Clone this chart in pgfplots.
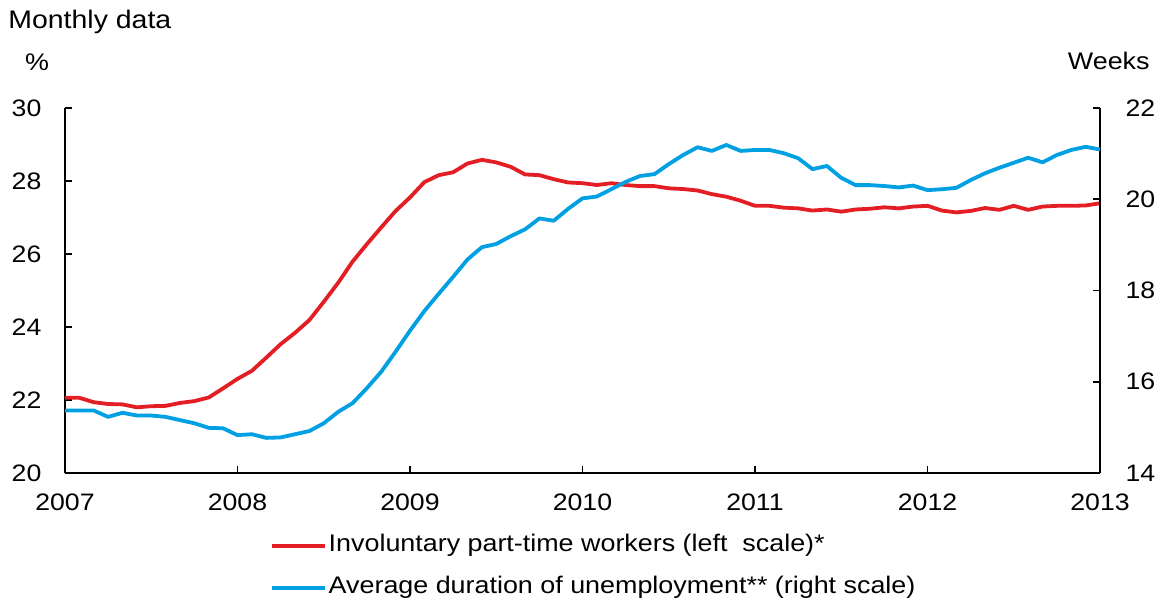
\documentclass[border=0pt]{standalone}
\usepackage{fontspec}
\setmainfont{Liberation Sans}[FakeStretch=1.12]
\usepackage{pgfplots}
\pgfplotsset{compat=1.18}
\definecolor{cred}{RGB}{227,30,36}
\definecolor{cblue}{RGB}{0,160,226}
\begin{document}
\fontsize{12}{14}\selectfont
\begin{tikzpicture}
\useasboundingbox (-32.5pt,-64.5pt) rectangle (547.5pt,236.5pt);
\pgfplotsset{
  common/.style={
    width=517.5pt, height=182.5pt, scale only axis,
    xmin=0, xmax=72,
    tick align=inside,
    major tick length=3.5pt,
    every tick/.style={black, line width=0.8pt},
    axis line style={black, line width=0.9pt},
    /pgf/number format/assume math mode=true,
    tick label style={font=\fontsize{11.9}{14}\selectfont},
    clip=false,
  }
}
\begin{axis}[common,
  axis y line*=left, axis x line*=bottom,
  ymin=20, ymax=30, ytick={20,22,...,30},
  xtick={0,12,...,72},
  xticklabels={2007,2008,2009,2010,2011,2012,2013},
  yticklabel style={xshift=-7.6pt},
  xticklabel style={yshift=-6pt},
]
\addplot[cred, line width=1.9pt, line join=round] coordinates {
(0,22.06)(1,22.06)(2,21.94)(3,21.89)(4,21.88)(5,21.80)(6,21.83)(7,21.84)(8,21.92)(9,21.97)
(10,22.07)(11,22.32)(12,22.58)(13,22.80)(14,23.16)(15,23.53)(16,23.84)(17,24.19)(18,24.69)(19,25.21)
(20,25.79)(21,26.27)(22,26.73)(23,27.18)(24,27.55)(25,27.97)(26,28.16)(27,28.24)(28,28.48)(29,28.58)
(30,28.51)(31,28.39)(32,28.18)(33,28.16)(34,28.05)(35,27.96)(36,27.94)(37,27.89)(38,27.94)(39,27.89)
(40,27.86)(41,27.86)(42,27.80)(43,27.78)(44,27.74)(45,27.64)(46,27.57)(47,27.46)(48,27.32)(49,27.32)
(50,27.27)(51,27.25)(52,27.19)(53,27.22)(54,27.16)(55,27.22)(56,27.24)(57,27.28)(58,27.25)(59,27.30)
(60,27.32)(61,27.19)(62,27.14)(63,27.18)(64,27.26)(65,27.21)(66,27.32)(67,27.21)(68,27.30)(69,27.32)
(70,27.32)(71,27.33)(72,27.39)
};
\end{axis}
\begin{axis}[common,
  axis y line*=right, axis x line=none,
  ymin=14, ymax=22, ytick={14,16,...,22},
  yticklabel style={xshift=8.6pt},
  legend style={at={(0.198,-0.167)}, anchor=north west, draw=none, fill=none,
    inner sep=0pt, outer sep=0pt, row sep=9pt, column sep=1pt,
    nodes={inner sep=0pt, text height=9pt, text depth=3pt, font=\fontsize{12}{14}\selectfont}},
  legend cell align=left,
  legend image code/.code={\draw[#1, line width=1.9pt] (0pt,0pt) -- (26.5pt,0pt);},
]
\addlegendimage{cred}
\addlegendentry{Involuntary part-time workers (left\ \ scale)*}
\addplot[cblue, line width=1.9pt, line join=round] coordinates {
(0,15.37)(1,15.37)(2,15.37)(3,15.23)(4,15.32)(5,15.26)(6,15.26)(7,15.23)(8,15.16)(9,15.09)
(10,14.99)(11,14.98)(12,14.83)(13,14.85)(14,14.77)(15,14.78)(16,14.85)(17,14.92)(18,15.09)(19,15.34)
(20,15.53)(21,15.86)(22,16.22)(23,16.66)(24,17.12)(25,17.55)(26,17.93)(27,18.30)(28,18.68)(29,18.95)
(30,19.02)(31,19.19)(32,19.34)(33,19.58)(34,19.53)(35,19.79)(36,20.02)(37,20.06)(38,20.22)(39,20.38)
(40,20.51)(41,20.55)(42,20.77)(43,20.97)(44,21.14)(45,21.06)(46,21.19)(47,21.06)(48,21.08)(49,21.08)
(50,21.01)(51,20.90)(52,20.66)(53,20.73)(54,20.47)(55,20.31)(56,20.31)(57,20.29)(58,20.26)(59,20.30)
(60,20.20)(61,20.22)(62,20.25)(63,20.42)(64,20.57)(65,20.69)(66,20.80)(67,20.91)(68,20.81)(69,20.97)
(70,21.08)(71,21.15)(72,21.09)
};
\addlegendentry{Average duration of unemployment** (right scale)}
\end{axis}
\node[anchor=base west, inner sep=0pt, font=\fontsize{12.7}{15}\selectfont] at (-28.5pt,222.5pt) {Monthly data};
\node[anchor=base, inner sep=0pt] at (-14pt,201.5pt) {\%};
\node[anchor=base east, inner sep=0pt] at (542.5pt,202pt) {Weeks};
\end{tikzpicture}
\end{document}
